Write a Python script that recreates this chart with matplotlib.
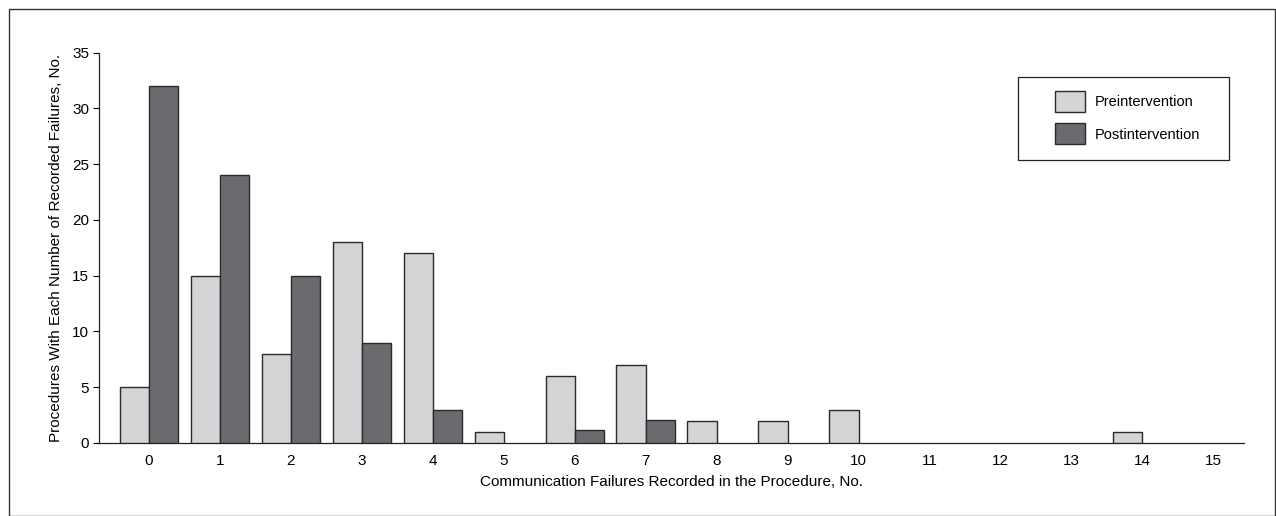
import matplotlib
matplotlib.use("Agg")
import matplotlib.pyplot as plt
import numpy as np
from matplotlib.patches import Rectangle
from matplotlib import font_manager

fams = {f.name for f in font_manager.fontManager.ttflist}
fam = "Liberation Sans Narrow" if "Liberation Sans Narrow" in fams else "Liberation Sans"
plt.rcParams['font.family'] = [fam, 'DejaVu Sans']

categories = list(range(16))
pre = [5, 15, 8, 18, 17, 1, 6, 7, 2, 2, 3, 0, 0, 0, 1, 0]
post = [32, 24, 15, 9, 3, 0, 1.15, 2.1, 0, 0, 0, 0, 0, 0, 0, 0]
yticks = [0, 5, 10, 15, 20, 25, 30, 35]

W, H = 1276, 516
fig = plt.figure(figsize=(W/100, H/100), dpi=100)
ax = fig.add_axes([99/W, 1-443/H, (1244-99)/W, (443-52.7)/H])

bw = 0.41
edge = '#2a2a2a'
pre_x = [c - bw/2 for c, v in zip(categories, pre) if v > 0]
pre_v = [v for v in pre if v > 0]
post_x = [c + bw/2 for c, v in zip(categories, post) if v > 0]
post_v = [v for v in post if v > 0]
ax.bar(pre_x, pre_v, width=bw, color='#d3d4d6', edgecolor=edge, linewidth=1.0, label='Preintervention', zorder=3)
ax.bar(post_x, post_v, width=bw, color='#6a6b6f', edgecolor=edge, linewidth=1.0, label='Postintervention', zorder=3)

ax.set_xlim(-0.7, 15.43)
ax.set_ylim(0, 35)
ax.set_yticks(yticks)
ax.set_xticks(categories)
ax.set_xticklabels([str(c) for c in categories])
ax.tick_params(axis='x', length=0, pad=8, labelsize=11)
ax.tick_params(axis='y', length=4, width=0.8, labelsize=11, pad=3)
for s in ['top', 'right']:
    ax.spines[s].set_visible(False)
for s in ['left', 'bottom']:
    ax.spines[s].set_linewidth(0.9)
    ax.spines[s].set_color('#222222')

ax.set_xlabel('Communication Failures Recorded in the Procedure, No.', fontsize=11, labelpad=5)
ax.set_ylabel('Procedures With Each Number of Recorded Failures, No.', fontsize=11, labelpad=7)

leg = ax.legend(loc='upper left', bbox_to_anchor=(1055/W, 1-90.5/H), bbox_transform=fig.transFigure,
                frameon=False, fontsize=10.5,
                handlelength=2.05, handleheight=1.85, labelspacing=0.8, borderpad=0,
                handletextpad=0.7, borderaxespad=0)

fig.patches.append(Rectangle((1018/W, 1-160/H), (1229-1018)/W, (160-77)/H, transform=fig.transFigure,
                             fill=False, edgecolor='#222222', linewidth=0.9))
fig.patches.append(Rectangle((9/W, 0), (W-10)/W, 1-9/H, transform=fig.transFigure,
                             fill=False, edgecolor='#333333', linewidth=1.0))

fig.savefig('out.png', dpi=100)
